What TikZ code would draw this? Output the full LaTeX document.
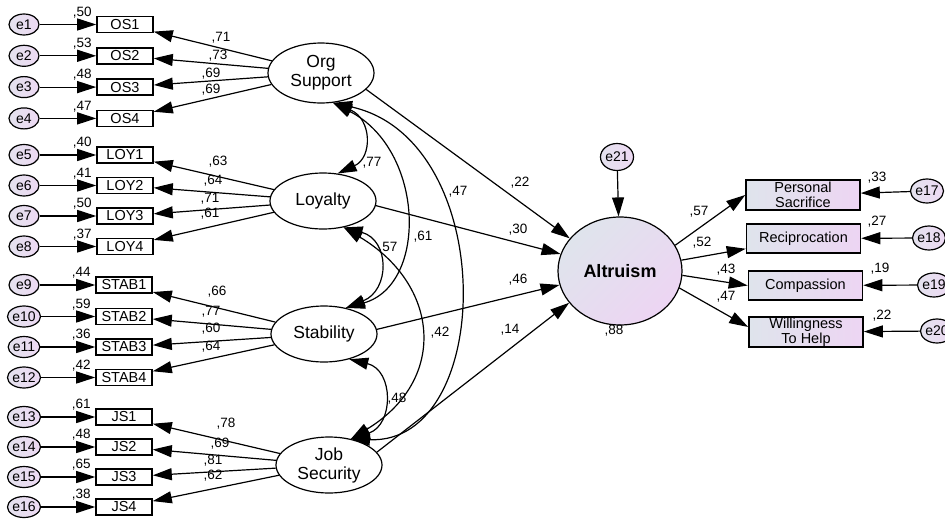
\documentclass[tikz,border=0pt]{standalone}
\usepackage{fontspec}
\setmainfont{Liberation Sans}
\usetikzlibrary{shapes.geometric,arrows.meta,calc}

\definecolor{errA}{HTML}{E4E2EE}
\definecolor{errB}{HTML}{EDD9F3}
\definecolor{boxA}{HTML}{DFE4EC}
\definecolor{boxB}{HTML}{EDD5F3}

\begin{document}
\begin{tikzpicture}[x=1pt,y=-1pt,
  lat/.style={ellipse, draw, line width=1.2pt, minimum width=106pt, minimum height=56pt,
    inner sep=0pt, align=center, font=\fontsize{17.5}{19}\selectfont},
  err/.style={ellipse, draw, line width=1.2pt, minimum width=30pt, minimum height=21pt,
    inner sep=0pt, left color=errA, right color=errB, font=\fontsize{14}{15}\selectfont},
  ind/.style={rectangle, draw, line width=1.6pt, minimum width=56pt, minimum height=16pt,
    inner sep=0pt, fill=white, font=\fontsize{14.5}{15}\selectfont},
  indr/.style={rectangle, draw, line width=1.6pt, minimum width=114pt, minimum height=30pt,
    inner sep=0pt, left color=boxA, right color=boxB, align=center,
    font=\fontsize{14.5}{15}\selectfont},
  arr/.style={line width=1.2pt, -{Triangle[length=19pt,width=12pt]}},
  dbl/.style={line width=1.2pt, {Triangle[length=19pt,width=12pt]}-{Triangle[length=19pt,width=12pt]}},
  lbl/.style={inner sep=0pt, font=\fontsize{13.5}{14}\selectfont}
]
\useasboundingbox (0,0) rectangle (945,522);
\clip (0,0) rectangle (945,522);

% ---------- latent factors ----------
\node[lat, minimum height=60pt] (os) at (321,73)  {Org\\Support};
\node[lat] (loy)  at (323,201) {Loyalty};
\node[lat] (stab) at (324,334) {Stability};
\node[lat] (js)   at (329,465) {Job\\Security};

% ---------- indicators and their errors ----------
% name / text / row / error / error variance / loading position / loading
\foreach \nm/\txt/\y/\e/\ev/\lx/\ly/\lv in {
    os1/OS1/24.5/e1/50/221/38/71,
    os2/OS2/55.8/e2/53/218/56/73,
    os3/OS3/87.1/e3/48/211/74/69,
    os4/OS4/118.4/e4/47/211/90/69}{
  \node[ind] (\nm) at (125,\y) {\txt};
  \node[err] (\e) at (24,\y) {\e};
  \draw[arr] (\e) -- (\nm);
  \draw[arr] (os) -- (\nm);
  \node[lbl] (v\nm) at ($(\nm.west)+(-14,-12)$) {,\ev};
  \node[lbl] (l\nm) at (\lx,\ly) {,\lv};
}
\foreach \nm/\txt/\y/\e/\ev/\lx/\ly/\lv in {
    loy1/LOY1/155/e5/40/218/162/63,
    loy2/LOY2/185.5/e6/41/213/181/64,
    loy3/LOY3/216/e7/50/210/199/71,
    loy4/LOY4/246.5/e8/37/210/214/61}{
  \node[ind] (\nm) at (125,\y) {\txt};
  \node[err] (\e) at (24,\y) {\e};
  \draw[arr] (\e) -- (\nm);
  \draw[arr] (loy) -- (\nm);
  \node[lbl] (v\nm) at ($(\nm.west)+(-14,-12)$) {,\ev};
  \node[lbl] (l\nm) at (\lx,\ly) {,\lv};
}
\foreach \nm/\txt/\y/\e/\ev/\lx/\ly/\lv in {
    stab1/STAB1/285/e9/44/217/292/66,
    stab2/STAB2/316.5/e10/59/211/312/77,
    stab3/STAB3/347/e11/36/211/329/60,
    stab4/STAB4/377.5/e12/42/211/347/64}{
  \node[ind] (\nm) at (124,\y) {\txt};
  \node[err] (\e) at (24,\y) {\e};
  \draw[arr] (\e) -- (\nm);
  \draw[arr] (stab) -- (\nm);
  \node[lbl] (v\nm) at ($(\nm.west)+(-14,-12)$) {,\ev};
  \node[lbl] (l\nm) at (\lx,\ly) {,\lv};
}
\foreach \nm/\txt/\y/\e/\ev/\lx/\ly/\lv in {
    js1/JS1/417/e13/61/226/424/78,
    js2/JS2/447/e14/48/220/444/69,
    js3/JS3/477/e15/65/213/461/81,
    js4/JS4/507/e16/38/213/476/62}{
  \node[ind] (\nm) at (124,\y) {\txt};
  \node[err] (\e) at (24,\y) {\e};
  \draw[arr] (\e) -- (\nm);
  \draw[arr] (js) -- (\nm);
  \node[lbl] (v\nm) at ($(\nm.west)+(-14,-12)$) {,\ev};
  \node[lbl] (l\nm) at (\lx,\ly) {,\lv};
}

% ---------- covariances between factors ----------
\draw[dbl] (os.-68)  .. controls +(39,16) and +(35,-16) .. (loy.62);
\draw[dbl] (os.-68)  .. controls (425,150) and (428,285) .. (stab.50);
\draw[dbl] (os.-68)  .. controls (500,140) and (495,445) .. (js.50);
\draw[dbl] (loy.-52) .. controls (390,240) and (390,290) .. (stab.50);
\draw[dbl] (loy.-52) .. controls (440,285) and (448,380) .. (js.50);
\draw[dbl] (stab.-45) .. controls (394,370) and (394,425) .. (js.50);
\node[lbl] (c77) at (372,163) {,77};
\node[lbl] (c61) at (423,237) {,61};
\node[lbl] (c47) at (458,192) {,47};
\node[lbl] (c57) at (388,248) {,57};
\node[lbl] (c42) at (440,333) {,42};
\node[lbl] (c48) at (397,399) {,48};

% ---------- outcome ----------
\node[ellipse, draw, line width=1.2pt, minimum width=124pt, minimum height=108pt, inner sep=0pt,
  left color=boxA, right color=boxB, shading angle=45,
  font=\bfseries\fontsize{18}{19}\selectfont] (alt) at (620,271) {Altruism};
\node[err, minimum width=33pt, minimum height=27pt] (e21) at (617,157) {e21};
\draw[arr] (e21) -- (alt);
\node[lbl] (r2) at (614,331) {,88};

\draw[arr] (os.-20)  -- (alt.147);
\draw[arr] (loy.-5)  -- (alt.164);
\draw[arr] (stab.5)  -- (alt.193);
\draw[arr] (js.15)   -- (alt.212);
\node[lbl] (p22) at (520,183) {,22};
\node[lbl] (p30) at (518,230) {,30};
\node[lbl] (p46) at (518,280) {,46};
\node[lbl] (p14) at (510,330) {,14};

% ---------- outcome indicators ----------
\node[indr] (ps)    at (803,195)   {Personal\\Sacrifice};
\node[indr, minimum height=29pt] (recip) at (803.5,238.5) {Reciprocation};
\node[indr, minimum height=29pt] (comp)  at (805.5,285.5) {Compassion};
\node[indr] (will)  at (806,332)   {Willingness\\To Help};

\node[err, minimum height=24pt] (e17) at (927,191) {e17};
\node[err, minimum height=24pt] (e18) at (929,238) {e18};
\node[err, minimum height=24pt] (e19) at (934,285) {e19};
\node[err, minimum height=24pt] (e20) at (937,331) {e20};
\draw[arr] (e17) -- (ps);
\draw[arr] (e18) -- (recip);
\draw[arr] (e19) -- (comp);
\draw[arr] (e20) -- (will);

\draw[arr] (alt.25)  -- (ps.west);
\draw[arr] (alt.10)  -- (recip);
\draw[arr] (alt.-4)  -- (comp.west);
\draw[arr] (alt.-16) -- ($(will.west)+(0,-5)$);

\node[lbl] (q57) at (699,212) {,57};
\node[lbl] (q52) at (702,243) {,52};
\node[lbl] (q43) at (726,270) {,43};
\node[lbl] (q47) at (726,297) {,47};
\node[lbl] (s33) at (877,178) {,33};
\node[lbl] (s27) at (877,222) {,27};
\node[lbl] (s19) at (880,269) {,19};
\node[lbl] (s22) at (882,316) {,22};
\end{tikzpicture}
\end{document}
